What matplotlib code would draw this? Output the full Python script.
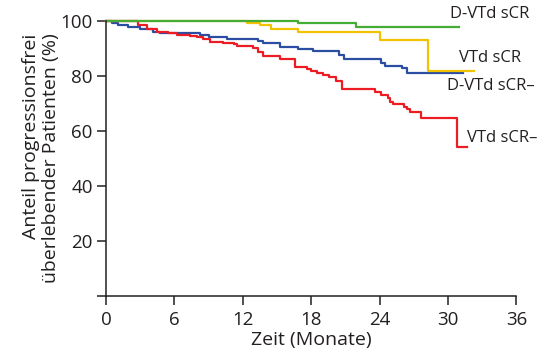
import matplotlib
matplotlib.use('Agg')
import matplotlib.pyplot as plt

plt.rcParams['font.family'] = ['Open Sans', 'DejaVu Sans']

# Kaplan-Meier step data (months, % progression-free)
green_t = [0, 16.8, 21.9, 31.0]
green_s = [100, 99.1, 97.8, 97.8]

yellow_t = [0, 12.4, 13.5, 14.5, 16.8, 24.0, 28.2, 32.3]
yellow_s = [100, 99.3, 98.4, 97.0, 95.9, 93.1, 81.9, 81.9]

blue_t = [0, 0.5, 1.05, 1.9, 3.0, 4.1, 4.7, 8.25, 9.0, 10.6, 13.3, 13.8, 15.3,
          16.8, 18.2, 20.4, 20.9, 24.1, 24.5, 26.0, 26.4, 31.3]
blue_s = [100, 99.4, 98.5, 97.9, 97.0, 96.1, 95.5, 94.9, 94.3, 93.6, 92.6, 91.9,
          90.7, 89.9, 89.2, 87.6, 86.1, 84.8, 83.6, 82.8, 81.2, 81.2]

red_t = [0, 2.8, 3.6, 4.5, 5.4, 6.2, 7.4, 8.0, 8.5, 9.1, 10.3, 11.2, 11.5, 12.9,
         13.3, 13.8, 15.3, 16.6, 17.6, 18.0, 18.5, 19.0, 19.6, 20.2, 20.7, 23.6,
         24.1, 24.7, 24.9, 25.2, 26.1, 26.4, 26.7, 27.6, 30.8, 31.7]
red_s = [100, 98.5, 97.0, 95.9, 95.5, 94.9, 94.5, 94.1, 93.3, 92.5, 92.1, 91.5,
         90.9, 90.1, 88.8, 87.3, 86.3, 83.4, 82.6, 81.9, 81.0, 80.5, 79.7, 78.3,
         75.2, 74.1, 73.1, 71.9, 70.7, 69.8, 68.8, 67.9, 66.8, 64.6, 54.1, 54.1]

labels = ['D-VTd sCR', 'VTd sCR', 'D-VTd sCR\u2013', 'VTd sCR\u2013']
label_x = [30.2, 31.0, 29.9, 31.7]
label_y = [102.4, 86.5, 76.5, 57.5]

x_ticks = [0, 6, 12, 18, 24, 30, 36]
y_ticks = [0, 20, 40, 60, 80, 100]
y_ticklabels = ['', '20', '40', '60', '80', '100']

ink = '#231f20'

fig = plt.figure(figsize=(5.5, 3.6), dpi=100)
ax = fig.add_axes([0.1927, 0.1778, 0.7463, 0.7639])

ax.step(blue_t, blue_s, where='post', color='#2b4ea2', lw=1.6, clip_on=False)
ax.step(yellow_t, yellow_s, where='post', color='#f2c200', lw=1.6, clip_on=False)
ax.step(red_t, red_s, where='post', color='#ec1c24', lw=1.6, clip_on=False)
ax.step(green_t, green_s, where='post', color='#45ad35', lw=1.6, clip_on=False)

for txt, x, y in zip(labels, label_x, label_y):
    ax.text(x, y, txt, ha='left', va='center', fontsize=12, color=ink,
            clip_on=False)

ax.set_xlim(0, 36)
ax.set_ylim(0, 100)
ax.set_xticks(x_ticks)
ax.set_yticks(y_ticks)
ax.set_yticklabels(y_ticklabels)
ax.tick_params(direction='out', length=6.5, width=1.1, labelsize=13.5,
               colors=ink)
ax.tick_params(axis='x', pad=4)
ax.tick_params(axis='y', pad=3)
for s in ['top', 'right']:
    ax.spines[s].set_visible(False)
for s in ['left', 'bottom']:
    ax.spines[s].set_linewidth(1.1)
    ax.spines[s].set_color(ink)

ax.set_xlabel('Zeit (Monate)', fontsize=14, color=ink, labelpad=2)
ax.set_ylabel('Anteil progressionsfrei\n\u00fcberlebender Patienten (%)',
              fontsize=14, color=ink, multialignment='right',
              linespacing=1.1)
ax.yaxis.set_label_coords(-0.113, 0.5)

fig.savefig('out.png', dpi=100)
